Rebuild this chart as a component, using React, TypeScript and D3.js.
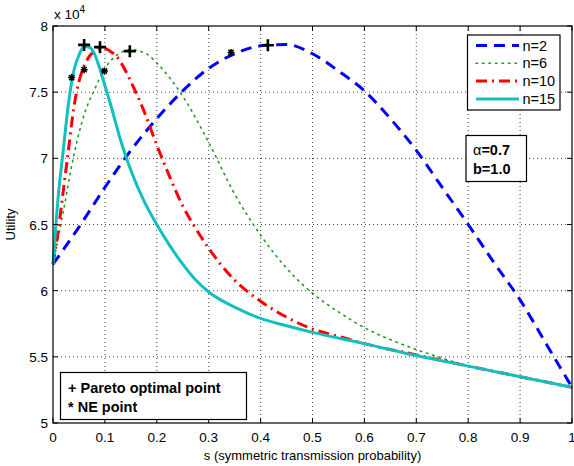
import React, { useEffect, useRef } from 'react';
import * as d3 from 'd3';

// s values (symmetric transmission probability) and utility values (x 10^4)
const sN2 = [0, 0.05, 0.1, 0.15, 0.2, 0.25, 0.3, 0.35, 0.4, 0.45, 0.5, 0.55, 0.6, 0.65, 0.7, 0.75, 0.8, 0.85, 0.9, 0.95, 1.0];
const uN2 = [6.2, 6.48, 6.78, 7.06, 7.3, 7.51, 7.68, 7.79, 7.85, 7.86, 7.79, 7.66, 7.51, 7.3, 7.06, 6.78, 6.5, 6.21, 5.93, 5.6, 5.27];

const sN6 = [0, 0.02, 0.04, 0.06, 0.08, 0.1, 0.12, 0.15, 0.18, 0.2, 0.25, 0.3, 0.35, 0.4, 0.45, 0.5, 0.55, 0.6, 0.65, 0.7, 0.75, 0.8, 0.9, 1.0];
const uN6 = [6.2, 6.6, 7.02, 7.33, 7.52, 7.68, 7.77, 7.82, 7.79, 7.72, 7.47, 7.12, 6.73, 6.42, 6.17, 5.98, 5.84, 5.72, 5.63, 5.555, 5.49, 5.43, 5.35, 5.27];

const sN10 = [0, 0.01, 0.02, 0.03, 0.04, 0.05, 0.06, 0.07, 0.08, 0.09, 0.1, 0.11, 0.12, 0.13, 0.14, 0.15, 0.175, 0.2, 0.225, 0.25, 0.275, 0.3, 0.35, 0.4, 0.45, 0.5, 0.55, 0.6, 0.7, 0.8, 0.9, 1.0];
const uN10 = [6.2, 6.45, 6.76, 7.07, 7.38, 7.58, 7.7, 7.77, 7.81, 7.83, 7.83, 7.81, 7.78, 7.73, 7.66, 7.58, 7.36, 7.1, 6.86, 6.64, 6.47, 6.32, 6.08, 5.92, 5.8, 5.71, 5.655, 5.6, 5.515, 5.43, 5.35, 5.27];

const sN15 = [0, 0.01, 0.02, 0.03, 0.04, 0.05, 0.06, 0.07, 0.08, 0.09, 0.1, 0.11, 0.12, 0.13, 0.14, 0.15, 0.175, 0.2, 0.225, 0.25, 0.275, 0.3, 0.35, 0.4, 0.45, 0.5, 0.6, 0.7, 0.8, 0.9, 1.0];
const uN15 = [6.2, 6.71, 7.07, 7.42, 7.66, 7.78, 7.845, 7.84, 7.79, 7.68, 7.55, 7.42, 7.28, 7.14, 7.02, 6.91, 6.68, 6.5, 6.34, 6.2, 6.08, 5.99, 5.875, 5.79, 5.735, 5.685, 5.6, 5.51, 5.43, 5.35, 5.27];

// marker points
const paretoS = [0.06, 0.0906, 0.148, 0.414];
const paretoU = [7.857, 7.84, 7.81, 7.855];
const neS = [0.036, 0.06, 0.099, 0.343];
const neU = [7.61, 7.67, 7.66, 7.8];

const xTicks = [0, 0.1, 0.2, 0.3, 0.4, 0.5, 0.6, 0.7, 0.8, 0.9, 1];
const yTicks = [5, 5.5, 6, 6.5, 7, 7.5, 8];
const legendLabels = ['n=2', 'n=6', 'n=10', 'n=15'];

const W = 574;
const H = 466;
const FONT = '"Liberation Sans", Arial, sans-serif';

const seriesStyles = [
  { color: '#0000ff', width: 3, dash: '11,7' },
  { color: '#1f9a1f', width: 1.6, dash: '1.5,5' },
  { color: '#ff0000', width: 3, dash: '11,5,2,5' },
  { color: '#13bfbf', width: 3, dash: null },
];

export default function App() {
  const ref = useRef<SVGSVGElement | null>(null);

  useEffect(() => {
    const svg = d3.select(ref.current);
    svg.selectAll('*').remove();

    const left = 53;
    const right = 572;
    const top = 26;
    const bottom = 423;

    const x = d3.scaleLinear().domain([0, 1]).range([left, right]);
    const y = d3.scaleLinear().domain([5, 8]).range([bottom, top]);

    svg.append('rect').attr('width', W).attr('height', H).attr('fill', '#fff');

    // grid
    const grid = svg.append('g');
    xTicks.slice(1, -1).forEach((t) => {
      grid.append('line')
        .attr('x1', x(t)).attr('x2', x(t)).attr('y1', top).attr('y2', bottom)
        .attr('stroke', '#444').attr('stroke-width', 1).attr('stroke-dasharray', '1,3');
    });
    yTicks.slice(1, -1).forEach((t) => {
      grid.append('line')
        .attr('x1', left).attr('x2', right).attr('y1', y(t)).attr('y2', y(t))
        .attr('stroke', '#444').attr('stroke-width', 1).attr('stroke-dasharray', '1,3');
    });

    // curves
    const data = [
      d3.zip(sN2, uN2),
      d3.zip(sN6, uN6),
      d3.zip(sN10, uN10),
      d3.zip(sN15, uN15),
    ];
    const line = d3.line<number[]>()
      .x((d) => x(d[0]))
      .y((d) => y(d[1]))
      .curve(d3.curveMonotoneX);

    const plot = svg.append('g');
    data.forEach((d, i) => {
      const st = seriesStyles[i];
      plot.append('path')
        .attr('d', line(d))
        .attr('fill', 'none')
        .attr('stroke', st.color)
        .attr('stroke-width', st.width)
        .attr('stroke-dasharray', st.dash)
        .attr('stroke-linecap', i === 1 ? 'round' : 'butt');
    });

    // pareto markers (+)
    paretoS.forEach((s, i) => {
      const cx = x(s);
      const cy = y(paretoU[i]);
      plot.append('path')
        .attr('d', `M${cx - 6},${cy}H${cx + 6}M${cx},${cy - 6}V${cy + 6}`)
        .attr('stroke', '#000').attr('stroke-width', 2.6);
    });
    // NE markers (*)
    neS.forEach((s, i) => {
      const cx = x(s);
      const cy = y(neU[i]);
      const r = 3.5;
      const a = r * 0.75;
      plot.append('path')
        .attr('d', `M${cx - r},${cy}H${cx + r}M${cx},${cy - r}V${cy + r}M${cx - a},${cy - a}L${cx + a},${cy + a}M${cx - a},${cy + a}L${cx + a},${cy - a}`)
        .attr('stroke', '#000').attr('stroke-width', 1.5);
    });

    // axes frame
    svg.append('rect')
      .attr('x', left).attr('y', top)
      .attr('width', right - left).attr('height', bottom - top)
      .attr('fill', 'none').attr('stroke', '#000').attr('stroke-width', 1.2);

    const ticks = svg.append('g').attr('stroke', '#000').attr('stroke-width', 1);
    xTicks.forEach((t) => {
      ticks.append('line').attr('x1', x(t)).attr('x2', x(t)).attr('y1', bottom).attr('y2', bottom - 5);
      ticks.append('line').attr('x1', x(t)).attr('x2', x(t)).attr('y1', top).attr('y2', top + 5);
    });
    yTicks.forEach((t) => {
      ticks.append('line').attr('x1', left).attr('x2', left + 5).attr('y1', y(t)).attr('y2', y(t));
      ticks.append('line').attr('x1', right).attr('x2', right - 5).attr('y1', y(t)).attr('y2', y(t));
    });

    const labels = svg.append('g').attr('font-family', FONT).attr('font-size', 13.5).attr('fill', '#000');
    xTicks.forEach((t) => {
      labels.append('text')
        .attr('x', x(t)).attr('y', bottom + 19)
        .attr('text-anchor', 'middle')
        .text(d3.format('~g')(t));
    });
    yTicks.forEach((t) => {
      labels.append('text')
        .attr('x', left - 5).attr('y', y(t) + 5)
        .attr('text-anchor', 'end')
        .text(d3.format('~g')(t));
    });

    // exponent label
    const exp = labels.append('text').attr('x', 54).attr('y', 19);
    exp.append('tspan').text('x 10');
    exp.append('tspan').attr('font-size', 10).attr('dy', -6).text('4');

    labels.append('text')
      .attr('x', (left + right) / 2).attr('y', 460)
      .attr('text-anchor', 'middle')
      .attr('font-size', 13)
      .text('s (symmetric transmission probability)');
    labels.append('text')
      .attr('transform', `translate(15,${(top + bottom) / 2}) rotate(-90)`)
      .attr('text-anchor', 'middle')
      .attr('font-size', 13)
      .text('Utility');

    // legend
    const lg = svg.append('g');
    lg.append('rect')
      .attr('x', 467.5).attr('y', 35).attr('width', 92.5).attr('height', 75)
      .attr('fill', '#fff').attr('stroke', '#000').attr('stroke-width', 1.2);
    legendLabels.forEach((lab, i) => {
      const ly = 45.5 + i * 17.8;
      const st = seriesStyles[i];
      lg.append('line')
        .attr('x1', 476).attr('x2', 519).attr('y1', ly).attr('y2', ly)
        .attr('stroke', st.color).attr('stroke-width', st.width)
        .attr('stroke-dasharray', st.dash)
        .attr('stroke-linecap', i === 1 ? 'round' : 'butt');
      lg.append('text')
        .attr('x', 522.5).attr('y', ly + 5)
        .attr('font-family', FONT).attr('font-size', 14.5)
        .text(lab);
    });

    // parameter box
    const pb = svg.append('g');
    pb.append('rect')
      .attr('x', 466).attr('y', 135.5).attr('width', 60.5).attr('height', 46)
      .attr('fill', '#fff').attr('stroke', '#000').attr('stroke-width', 1.2);
    const t1 = pb.append('text').attr('x', 473).attr('y', 155)
      .attr('font-family', FONT).attr('font-size', 14.5);
    t1.append('tspan').text('α');
    t1.append('tspan').attr('font-weight', 'bold').text('=0.7');
    pb.append('text').attr('x', 473).attr('y', 173.5)
      .attr('font-family', FONT).attr('font-size', 14.5).attr('font-weight', 'bold')
      .text('b=1.0');

    // marker note box
    const nb = svg.append('g');
    nb.append('rect')
      .attr('x', 60.5).attr('y', 372.5).attr('width', 186).attr('height', 47)
      .attr('fill', '#fff').attr('stroke', '#000').attr('stroke-width', 1.2);
    nb.append('text').attr('x', 68).attr('y', 392.5)
      .attr('font-family', FONT).attr('font-size', 14.5).attr('font-weight', 'bold')
      .text('+ Pareto optimal point');
    nb.append('text').attr('x', 68).attr('y', 411.5)
      .attr('font-family', FONT).attr('font-size', 14.5).attr('font-weight', 'bold')
      .text('* NE point');
  }, []);

  return (
    <div style={{ position: 'absolute', left: 0, top: 0 }}>
      <svg ref={ref} width={W} height={H} style={{ display: 'block' }} />
    </div>
  );
}
